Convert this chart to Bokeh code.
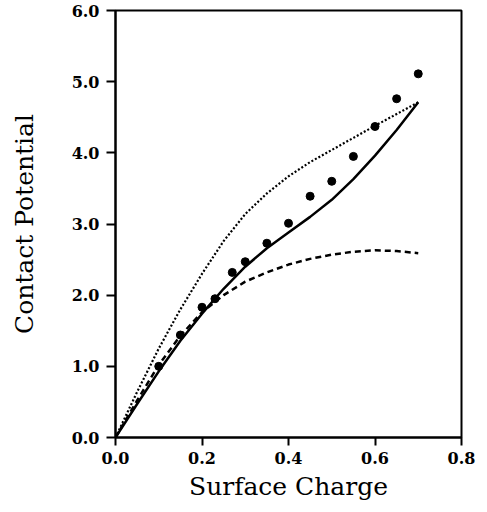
from bokeh.plotting import figure
from bokeh.models import FixedTicker, PrintfTickFormatter
from bokeh.embed import file_html
from bokeh.resources import INLINE

# Experimental points
pts_x = [0.10, 0.15, 0.20, 0.23, 0.27, 0.30, 0.35, 0.40, 0.45, 0.50, 0.55, 0.60, 0.65, 0.70]
pts_y = [1.00, 1.44, 1.83, 1.95, 2.32, 2.47, 2.73, 3.01, 3.39, 3.60, 3.95, 4.37, 4.76, 5.11]

# Theory curves
curve_x = [0.0, 0.05, 0.10, 0.15, 0.20, 0.25, 0.30, 0.35, 0.40, 0.45, 0.50, 0.55, 0.60, 0.65, 0.70]
solid_y = [0.0, 0.47, 0.93, 1.36, 1.74, 2.09, 2.40, 2.66, 2.88, 3.10, 3.34, 3.63, 3.96, 4.32, 4.71]
dashed_y = [0.0, 0.52, 1.02, 1.43, 1.76, 2.00, 2.19, 2.32, 2.43, 2.51, 2.57, 2.61, 2.63, 2.62, 2.59]
dotted_y = [0.0, 0.64, 1.25, 1.80, 2.30, 2.76, 3.14, 3.43, 3.67, 3.87, 4.04, 4.21, 4.38, 4.545, 4.71]

x_ticks = [0.0, 0.2, 0.4, 0.6, 0.8]
y_ticks = [0.0, 1.0, 2.0, 3.0, 4.0, 5.0, 6.0]

p = figure(width=487, height=512, x_range=(0, 0.8), y_range=(0, 6.0),
           output_backend="svg", toolbar_location=None,
           min_border_left=115, min_border_right=26, min_border_top=10, min_border_bottom=75)
p.grid.visible = False
p.outline_line_color = "black"
p.outline_line_width = 2
p.background_fill_color = "white"
p.border_fill_color = "white"

p.line(curve_x, solid_y, line_color="black", line_width=2.5)
p.line(curve_x, dashed_y, line_color="black", line_width=2.5, line_dash="6 4")
p.line(curve_x, dotted_y, line_color="black", line_width=2.2, line_dash="2 2")
p.scatter(pts_x, pts_y, size=8, fill_color="black", line_color="black")

for ax in (p.xaxis[0], p.yaxis[0]):
    ax.axis_line_width = 2
    ax.axis_line_color = "black"
    ax.major_tick_line_width = 2
    ax.major_tick_in = 0
    ax.minor_tick_line_color = None
    ax.major_label_text_font = "DejaVu Serif"
    ax.major_label_text_font_style = "bold"
    ax.major_label_text_font_size = "16px"
    ax.major_label_text_color = "black"
    ax.axis_label_text_font = "DejaVu Serif"
    ax.axis_label_text_font_style = "normal"
    ax.axis_label_text_font_size = "25px"
    ax.axis_label_text_color = "black"
    ax.formatter = PrintfTickFormatter(format="%.1f")

p.xaxis[0].ticker = FixedTicker(ticks=x_ticks)
p.yaxis[0].ticker = FixedTicker(ticks=y_ticks)
p.xaxis[0].major_tick_out = 8
p.yaxis[0].major_tick_out = 9
p.xaxis[0].major_label_standoff = 6
p.yaxis[0].major_label_standoff = 7
p.xaxis[0].axis_label = "Surface Charge"
p.yaxis[0].axis_label = "Contact Potential"
p.xaxis[0].axis_label_standoff = 5
p.yaxis[0].axis_label_standoff = 30

open("out.html", "w").write(file_html(p, INLINE))
